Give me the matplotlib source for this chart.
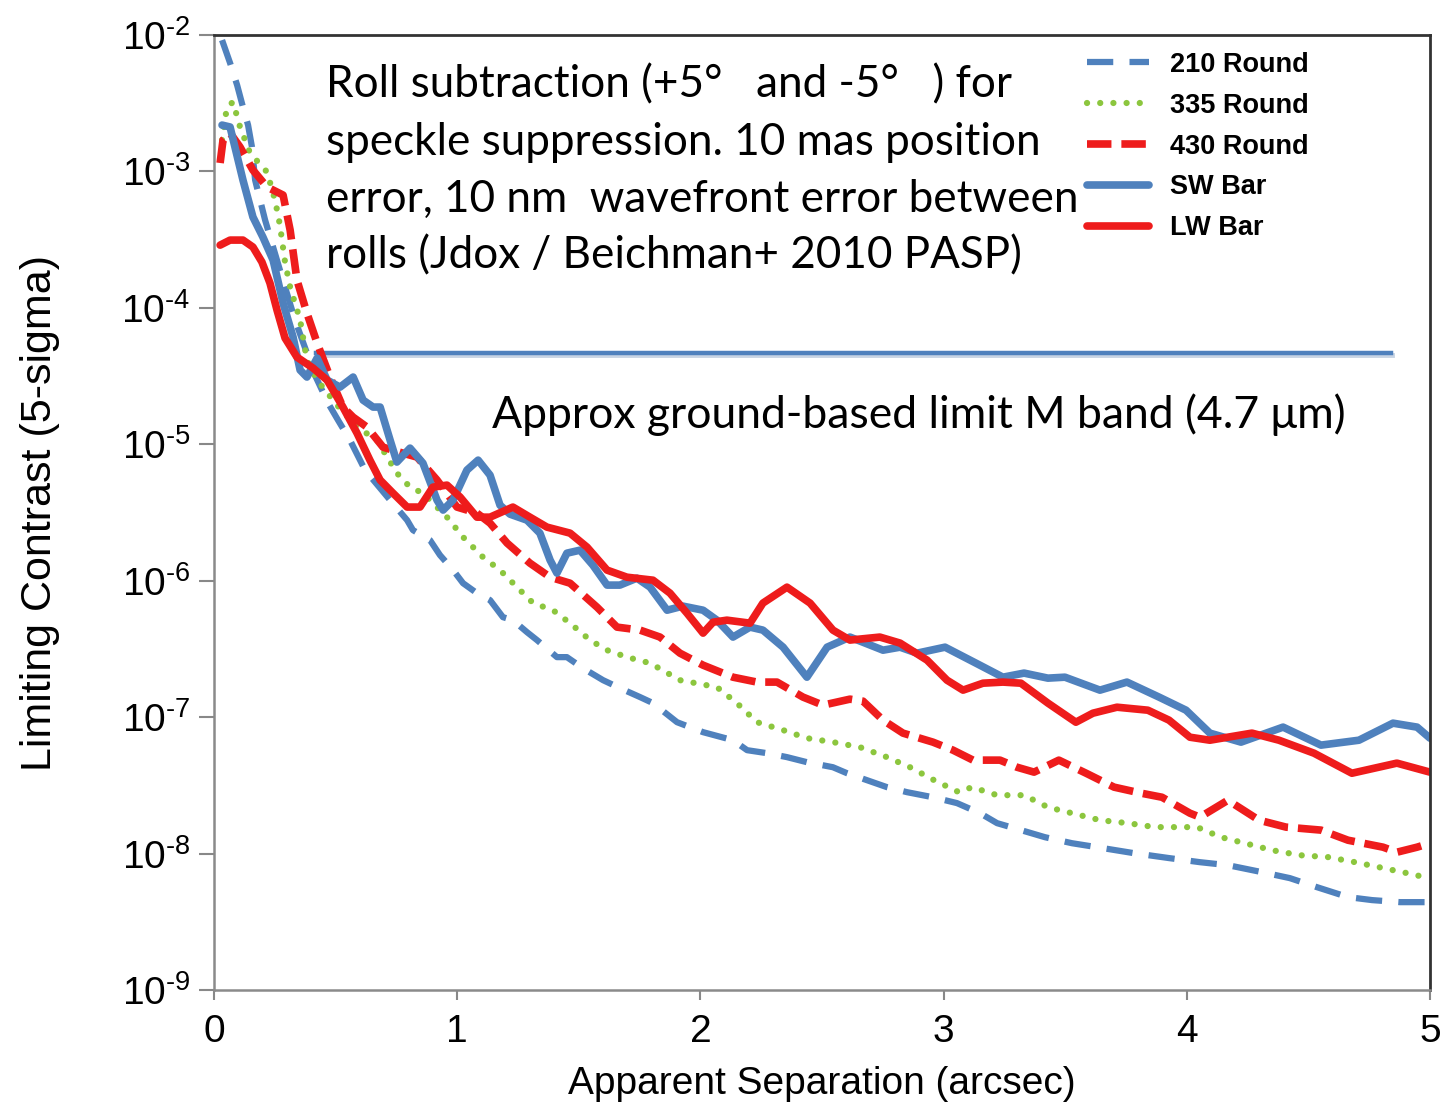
import matplotlib
matplotlib.use("Agg")
from matplotlib import pyplot as plt
import numpy as np

plt.rcParams['font.family'] = ['Liberation Sans', 'DejaVu Sans']
plt.rcParams['mathtext.fontset'] = 'custom'
plt.rcParams['mathtext.rm'] = 'Liberation Sans'
plt.rcParams['mathtext.it'] = 'Liberation Sans:italic'
plt.rcParams['mathtext.bf'] = 'Liberation Sans:bold'

# Separation (arcsec) and log10 contrast
x_210 = [0.033, 0.066, 0.095, 0.119, 0.140, 0.156, 0.169, 0.210, 0.271, 0.333, 0.415, 0.469,
         0.510, 0.559, 0.621, 0.724, 0.794, 0.818, 0.888, 0.929, 0.983, 1.024, 1.081, 1.135,
         1.188, 1.229, 1.287, 1.328, 1.410, 1.451, 1.517, 1.600, 1.669, 1.752, 1.805, 1.904,
         2.011, 2.134, 2.192, 2.274, 2.356, 2.438, 2.545, 2.603, 2.685, 2.767, 2.850, 2.956,
         3.055, 3.150, 3.220, 3.318, 3.417, 3.528, 3.655, 3.783, 3.927, 4.054, 4.169, 4.309,
         4.424, 4.535, 4.663, 4.762, 4.877, 4.992]
lc_210 = [-2.037, -2.205, -2.367, -2.528, -2.660, -2.821, -3.063, -3.356, -3.723, -4.089, -4.493, -4.698,
          -4.823, -4.969, -5.189, -5.409, -5.556, -5.629, -5.702, -5.812, -5.922, -6.018, -6.091, -6.142,
          -6.267, -6.289, -6.377, -6.435, -6.560, -6.560, -6.641, -6.729, -6.787, -6.853, -6.897, -7.037,
          -7.110, -7.169, -7.242, -7.264, -7.293, -7.330, -7.367, -7.411, -7.462, -7.513, -7.550, -7.587,
          -7.630, -7.704, -7.777, -7.828, -7.880, -7.924, -7.960, -7.997, -8.033, -8.063, -8.085, -8.136,
          -8.180, -8.246, -8.319, -8.341, -8.356, -8.356]

x_335 = [0.033, 0.053, 0.078, 0.107, 0.148, 0.218, 0.251, 0.271, 0.292, 0.313, 0.354, 0.382,
         0.424, 0.506, 0.588, 0.670, 0.752, 0.806, 0.859, 0.958, 1.024, 1.106, 1.176, 1.246,
         1.312, 1.394, 1.464, 1.546, 1.616, 1.698, 1.793, 1.916, 2.068, 2.150, 2.233, 2.340,
         2.438, 2.545, 2.656, 2.767, 2.862, 2.961, 3.063, 3.117, 3.220, 3.331, 3.429, 3.528,
         3.643, 3.758, 3.869, 4.042, 4.141, 4.239, 4.350, 4.465, 4.581, 4.692, 4.807, 4.905, 4.979]
lc_335 = [-2.770, -2.528, -2.491, -2.674, -2.865, -3.004, -3.210, -3.393, -3.664, -3.848, -4.089, -4.383,
          -4.529, -4.713, -4.874, -4.969, -5.211, -5.314, -5.358, -5.534, -5.680, -5.827, -5.922, -6.047,
          -6.164, -6.216, -6.311, -6.435, -6.509, -6.560, -6.604, -6.729, -6.780, -6.897, -7.037, -7.095,
          -7.154, -7.183, -7.220, -7.293, -7.367, -7.462, -7.550, -7.513, -7.572, -7.572, -7.660, -7.704,
          -7.755, -7.777, -7.806, -7.806, -7.880, -7.924, -7.975, -8.012, -8.026, -8.063, -8.106, -8.143, -8.173]

x_430 = [0.025, 0.037, 0.066, 0.107, 0.160, 0.218, 0.284, 0.313, 0.341, 0.382, 0.424, 0.477,
         0.530, 0.572, 0.629, 0.695, 0.777, 0.835, 0.917, 0.999, 1.081, 1.135, 1.205, 1.299,
         1.382, 1.464, 1.575, 1.657, 1.752, 1.834, 1.916, 2.011, 2.134, 2.233, 2.315, 2.422,
         2.504, 2.615, 2.669, 2.751, 2.833, 2.956, 3.039, 3.121, 3.232, 3.302, 3.372, 3.474,
         3.586, 3.701, 3.812, 3.898, 4.013, 4.054, 4.169, 4.297, 4.408, 4.552, 4.663, 4.807,
         4.864, 4.947, 5.0]
lc_430 = [-2.938, -2.770, -2.718, -2.821, -2.990, -3.114, -3.173, -3.430, -3.796, -4.038, -4.258, -4.507,
          -4.727, -4.801, -4.874, -5.021, -5.065, -5.094, -5.262, -5.460, -5.504, -5.578, -5.724, -5.871,
          -5.974, -6.018, -6.194, -6.340, -6.362, -6.413, -6.531, -6.619, -6.707, -6.743, -6.743, -6.853,
          -6.912, -6.868, -6.883, -7.022, -7.117, -7.183, -7.242, -7.315, -7.315, -7.367, -7.403, -7.315,
          -7.411, -7.513, -7.557, -7.587, -7.704, -7.733, -7.609, -7.755, -7.806, -7.828, -7.902, -7.953,
          -7.990, -7.953, -7.924]

x_sw = [0.033, 0.066, 0.119, 0.160, 0.201, 0.243, 0.284, 0.325, 0.354, 0.382, 0.424, 0.465,
        0.518, 0.572, 0.613, 0.654, 0.683, 0.724, 0.752, 0.806, 0.859, 0.917, 0.942, 0.983,
        1.040, 1.086, 1.135, 1.176, 1.217, 1.287, 1.340, 1.382, 1.410, 1.451, 1.505, 1.558,
        1.616, 1.669, 1.739, 1.793, 1.863, 1.928, 2.011, 2.068, 2.134, 2.204, 2.257, 2.340,
        2.438, 2.521, 2.615, 2.751, 2.821, 2.891, 3.006, 3.133, 3.244, 3.331, 3.429, 3.499,
        3.643, 3.754, 3.886, 3.997, 4.095, 4.223, 4.396, 4.552, 4.708, 4.848, 4.947, 5.0]
lc_sw = [-2.660, -2.674, -3.063, -3.334, -3.481, -3.650, -3.965, -4.214, -4.456, -4.507, -4.368, -4.529,
         -4.581, -4.507, -4.676, -4.727, -4.727, -4.969, -5.130, -5.028, -5.138, -5.409, -5.482, -5.409,
         -5.189, -5.116, -5.226, -5.446, -5.512, -5.556, -5.651, -5.849, -5.944, -5.798, -5.776, -5.886,
         -6.032, -6.032, -5.981, -6.047, -6.216, -6.186, -6.216, -6.289, -6.413, -6.340, -6.362, -6.487,
         -6.707, -6.487, -6.413, -6.509, -6.487, -6.531, -6.487, -6.604, -6.707, -6.677, -6.714, -6.707,
         -6.802, -6.743, -6.853, -6.949, -7.117, -7.183, -7.073, -7.205, -7.169, -7.044, -7.073, -7.154]

x_lw = [0.025, 0.066, 0.119, 0.160, 0.197, 0.230, 0.259, 0.292, 0.341, 0.407, 0.465, 0.530,
        0.588, 0.641, 0.683, 0.736, 0.794, 0.847, 0.900, 0.958, 1.012, 1.081, 1.135, 1.229,
        1.299, 1.369, 1.464, 1.534, 1.616, 1.698, 1.805, 1.875, 1.945, 2.011, 2.052, 2.109,
        2.204, 2.257, 2.356, 2.451, 2.545, 2.615, 2.738, 2.821, 2.932, 3.014, 3.080, 3.162,
        3.244, 3.318, 3.429, 3.544, 3.614, 3.713, 3.840, 3.927, 4.013, 4.095, 4.268, 4.379,
        4.523, 4.679, 4.864, 5.0]
lc_lw = [-3.540, -3.503, -3.503, -3.554, -3.664, -3.818, -4.016, -4.221, -4.361, -4.441, -4.529, -4.727,
         -4.918, -5.116, -5.262, -5.358, -5.460, -5.460, -5.314, -5.299, -5.387, -5.534, -5.534, -5.460,
         -5.534, -5.607, -5.651, -5.754, -5.922, -5.974, -5.996, -6.091, -6.238, -6.384, -6.304, -6.289,
         -6.311, -6.164, -6.047, -6.164, -6.362, -6.435, -6.413, -6.457, -6.582, -6.729, -6.802, -6.751,
         -6.743, -6.751, -6.897, -7.037, -6.971, -6.927, -6.949, -7.022, -7.147, -7.169, -7.117, -7.169,
         -7.264, -7.411, -7.337, -7.403]

ground_x = [0.42, 4.84]
ground_limit = 4.7e-5

labels = ['210 Round', '335 Round', '430 Round', 'SW Bar', 'LW Bar']
blue = '#4f81bd'
red = '#ee1c1c'
green = '#8cc63e'

fig = plt.figure(figsize=(14.51, 11.09), dpi=100)
ax = fig.add_axes([0.1475, 0.1073, 0.838, 0.8611])

ax.plot(x_210, np.power(10.0, lc_210), color=blue, lw=4.5, dashes=(4.2, 2.6), label=labels[0])
ax.plot(x_335, np.power(10.0, lc_335), color=green, lw=4.5, dashes=(0.01, 2.1),
        dash_capstyle='round', label=labels[1])
ax.plot(x_430, np.power(10.0, lc_430), color=red, lw=5.5, dashes=(3.2, 1.3), label=labels[2])
ax.plot(x_sw, np.power(10.0, lc_sw), color=blue, lw=5.5, solid_capstyle='round', label=labels[3])
ax.plot(x_lw, np.power(10.0, lc_lw), color=red, lw=5.5, solid_capstyle='round', label=labels[4])

# ground-based limit line, with a faint shadow
shadow = ax.transData + matplotlib.transforms.ScaledTranslation(1/100, -2/100, fig.dpi_scale_trans)
ax.plot(ground_x, [ground_limit, ground_limit], color='#c8d4e4', lw=3.5, zorder=1, transform=shadow)
ax.plot(ground_x, [ground_limit, ground_limit], color=blue, lw=3.2, zorder=1)

ax.set_yscale('log')
ax.set_xlim(0, 5)
ax.set_ylim(1e-9, 1e-2)
ax.set_xticks([0, 1, 2, 3, 4, 5])
ax.set_xticklabels(['0', '1', '2', '3', '4', '5'])
yt = [10.0 ** k for k in range(-9, -1)]
ax.set_yticks(yt)
ax.set_yticklabels([r'$10^{\text{-%d}}$' % (-k) for k in range(-9, -1)])
ax.yaxis.set_minor_locator(matplotlib.ticker.NullLocator())

ax.tick_params(axis='both', direction='out', colors='#888888', labelcolor='black', labelsize=28,
               width=1.5)
ax.tick_params(axis='y', length=11, pad=6)
ax.tick_params(axis='x', length=7, pad=10)

for s in ['left', 'bottom']:
    ax.spines[s].set_color('#8a8a8a')
    ax.spines[s].set_linewidth(1.8)
for s in ['top', 'right']:
    ax.spines[s].set_color('#333333')
    ax.spines[s].set_linewidth(2.0)

ax.set_xlabel('Apparent Separation (arcsec)', fontsize=28, labelpad=12)
ax.set_ylabel('Limiting Contrast (5-sigma)', fontsize=31, labelpad=44)

ax.text(0.092, 0.969,
        'Roll subtraction (+5\u00b0   and -5\u00b0   ) for\n'
        'speckle suppression. 10 mas position\n'
        'error, 10 nm  wavefront error between\n'
        'rolls (Jdox / Beichman+ 2010 PASP)',
        transform=ax.transAxes, ha='left', va='top', fontsize=31.7, family='Lato',
        linespacing=1.48)
ax.text(0.229, 0.602, 'Approx ground-based limit M band (4.7 \u03bcm)', transform=ax.transAxes,
        ha='left', va='center', fontsize=32, family='Lato')

leg = ax.legend(loc='upper right', bbox_to_anchor=(0.92, 1.008), frameon=False,
                prop={'weight': 'bold', 'size': 19.5}, handlelength=2.3, handletextpad=0.75,
                labelspacing=0.55)

fig.savefig('out.png', dpi=100, facecolor='white')
